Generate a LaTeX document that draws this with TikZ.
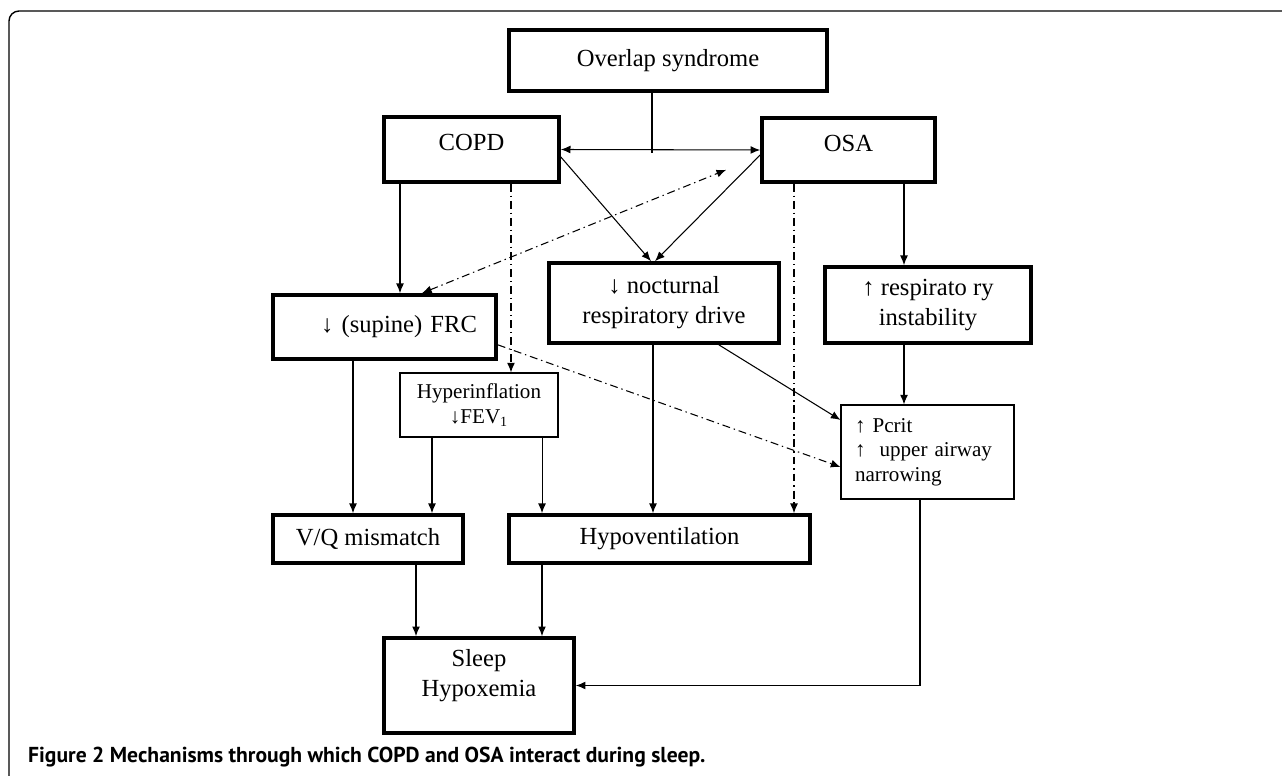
\documentclass[tikz,border=0pt]{standalone}
\usepackage{fontspec}
\setmainfont{Liberation Serif}
\newfontfamily\capfont{PT Sans}
\usepackage{tikz}
\usetikzlibrary{arrows.meta,positioning,calc}

\begin{document}
\begin{tikzpicture}[
    x=0.02cm, y=-0.02cm,
    box/.style={
        rectangle,
        draw,
        line width=2.1pt,
        align=center,
        inner sep=0pt,
        font=\fontsize{14}{17}\selectfont
    },
    thinbox/.style={
        rectangle,
        draw,
        line width=0.6pt,
        inner sep=0pt,
        font=\fontsize{12}{14}\selectfont
    },
    line/.style={
        draw,
        line width=0.6pt,
        -{Latex[length=5.5pt,width=4.5pt]}
    },
    dashdot/.style={
        line,
        dash pattern=on 4.5pt off 2.2pt on 0.8pt off 2.2pt
    }
]
\useasboundingbox (0,0) rectangle (1282,776);

% frame
\draw[line width=0.8pt, rounded corners=0.2cm] (9,776) -- (9,11) -- (1282,11);

% Nodes
\node [box, minimum width=6.36cm, minimum height=1.22cm] (overlap) at (668,60.5) {Overlap syndrome};
\node [box, minimum width=3.5cm, minimum height=1.3cm, text depth=8pt] (copd) at (471.5,149.5) {COPD};
\node [box, minimum width=3.46cm, minimum height=1.28cm, text depth=8pt] (osa) at (848.5,150) {OSA};

\node [box, minimum width=4.46cm, minimum height=1.28cm, text width=3.7cm, align=right] (frc) at (384.5,327) {↓ (supine) FRC};
\node [box, minimum width=4.6cm, minimum height=1.6cm] (noct) at (664,303) {↓ nocturnal\\respiratory drive};
\node [box, minimum width=4.12cm, minimum height=1.52cm] (resp) at (928,305) {↑ respirato ry\\instability};

\node [thinbox, minimum width=3.16cm, minimum height=1.28cm, align=center] (hyper) at (479,405) {Hyperinflation\\↓FEV\textsubscript{1}};
\node [thinbox, minimum width=3.46cm, minimum height=1.88cm, text width=2.9cm, align=left] (pcrit) at (927.5,452) {↑ Pcrit\\↑\ \ upper airway\\narrowing};

\node [box, minimum width=3.8cm, minimum height=0.96cm] (vq) at (368,539) {V/Q mismatch};
\node [box, minimum width=6.02cm, minimum height=0.96cm] (hypo) at (659.5,539) {Hypoventilation};
\node [box, minimum width=3.8cm, minimum height=1.9cm, text depth=14pt] (sleep) at (479,685.5) {Sleep\\Hypoxemia};

\coordinate (join) at (652,153);

\node [anchor=west, font=\capfont\bfseries\fontsize{12.3}{14}\selectfont] (caption) at (22,757)
    {Figure 2 Mechanisms through which COPD and OSA interact during sleep.};

% Paths
% top: overlap joins the COPD <-> OSA link
\draw [line width=0.6pt] (overlap.south -| join) -- (join);
\path [line, {Latex[length=5.5pt,width=4.5pt]}-{Latex[length=5.5pt,width=4.5pt]}] (copd.east) -- (osa.west);
\path [line] ([yshift=-0.15cm]copd.east) -- ([xshift=-0.26cm]noct.north);
\path [line] ([yshift=-0.1cm]osa.west) -- ([xshift=-0.18cm]noct.north);

% from COPD
\path [line] ([xshift=0.31cm]frc.north |- copd.south) -- ([xshift=0.31cm]frc.north);
\path [dashdot] ([xshift=0.64cm]hyper.north |- copd.south) -- ([xshift=0.64cm]hyper.north);
\path [dashdot, {Latex[length=5.5pt,width=4.5pt]}-{Latex[length=5.5pt,width=4.5pt]}] ([xshift=0.75cm]frc.north) -- ([xshift=-0.68cm,yshift=0.28cm]osa.south west);

% from OSA
\path [line] ([xshift=-0.48cm]resp.north |- osa.south) -- ([xshift=-0.48cm]resp.north);
\path [dashdot] ([xshift=-1.09cm]osa.south) -- ([xshift=-1.09cm]osa.south |- hypo.north);

% middle row
\path [line] ([xshift=-0.3cm]vq.north |- frc.south) -- ([xshift=-0.3cm]vq.north);
\path [line] ([xshift=1.28cm]vq.north |- hyper.south) -- ([xshift=1.28cm]vq.north);
\path [line] ([xshift=-2.35cm]hypo.north |- hyper.south) -- ([xshift=-2.35cm]hypo.north);
\path [line] ([xshift=-0.22cm]noct.south) -- ([xshift=-0.22cm]noct.south |- hypo.north);
\path [line] ([xshift=-1.24cm]noct.south east) -- ([yshift=0.64cm]pcrit.west);
\path [line] ([xshift=-0.48cm]resp.south) -- ([xshift=-0.48cm]resp.south |- pcrit.north);
\path [dashdot] ([yshift=0.32cm]frc.south east) -- ([yshift=-0.3cm]pcrit.west);

% to sleep hypoxemia
\path [line] ([xshift=-1.26cm]sleep.north |- vq.south) -- ([xshift=-1.26cm]sleep.north);
\path [line] ([xshift=1.26cm]sleep.north |- hypo.south) -- ([xshift=1.26cm]sleep.north);
\path [line] ([xshift=-0.15cm]pcrit.south) |- (sleep.east);

\end{tikzpicture}
\end{document}
